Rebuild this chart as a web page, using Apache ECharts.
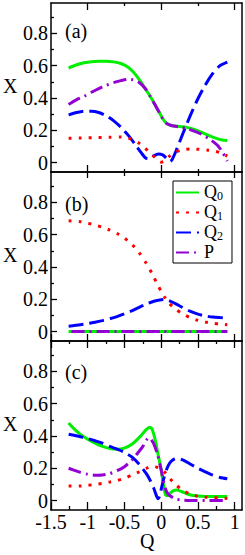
<!DOCTYPE html>
<html>
<head>
<meta charset="utf-8">
<script src="https://cdn.jsdelivr.net/npm/echarts@6/dist/echarts.min.js"></script>
<style>
html,body{margin:0;padding:0;background:#fff;}
#c{width:245px;height:555px;}
</style>
</head>
<body>
<div id="c"></div>
<script>
// ---------- data (Q, X) ----------
const seriesNames = ['Q0', 'Q1', 'Q2', 'P'];
const panelLabels = ['(a)', '(b)', '(c)'];
const xLabelTicks = [-1.5, -1, -0.5, 0, 0.5, 1];
const xQuarterTicks = [-1.25, -0.75, -0.25, 0.25, 0.75];
const xIntTicks = [-1, 0, 1];
const xHalfOddTicks = [-0.5, 0.5];
const yLabelTicks = [0, 0.2, 0.4, 0.6, 0.8];
const yMinorTicks = [0.1, 0.3, 0.5, 0.7, 0.9];

const aQ0 = [[-1.26,0.585],[-1.15,0.605],[-1.05,0.617],[-0.95,0.624],[-0.85,0.627],[-0.75,0.627],[-0.65,0.623],[-0.55,0.613],[-0.45,0.59],[-0.38,0.56],[-0.3,0.515],[-0.22,0.46],[-0.15,0.41],[-0.08,0.355],[-0.02,0.305],[0.03,0.265],[0.08,0.24],[0.15,0.228],[0.25,0.223],[0.35,0.218],[0.45,0.205],[0.55,0.187],[0.65,0.167],[0.75,0.15],[0.83,0.14],[0.9,0.137]];
const aQ1 = [[-1.26,0.15],[-1.1,0.152],[-0.9,0.155],[-0.7,0.157],[-0.55,0.158],[-0.45,0.152],[-0.38,0.14],[-0.3,0.12],[-0.22,0.09],[-0.15,0.06],[-0.08,0.03],[-0.03,0.008],[0,0.003],[0.04,0.008],[0.1,0.035],[0.18,0.062],[0.28,0.078],[0.4,0.085],[0.52,0.082],[0.64,0.077],[0.74,0.07],[0.82,0.058],[0.9,0.04]];
const aQ2 = [[-1.26,0.295],[-1.15,0.31],[-1.05,0.318],[-0.95,0.318],[-0.85,0.31],[-0.75,0.29],[-0.65,0.26],[-0.55,0.22],[-0.45,0.17],[-0.35,0.11],[-0.27,0.06],[-0.21,0.028],[-0.15,0.025],[-0.1,0.042],[-0.04,0.053],[0.02,0.048],[0.07,0.028],[0.12,0.008],[0.15,0.02],[0.2,0.07],[0.3,0.185],[0.4,0.295],[0.5,0.395],[0.6,0.48],[0.7,0.55],[0.8,0.6],[0.9,0.622]];
const aP = [[-1.26,0.36],[-1.15,0.39],[-1.05,0.41],[-0.95,0.435],[-0.85,0.458],[-0.75,0.478],[-0.65,0.495],[-0.55,0.507],[-0.45,0.515],[-0.38,0.512],[-0.3,0.495],[-0.22,0.46],[-0.15,0.41],[-0.08,0.355],[-0.02,0.305],[0.03,0.265],[0.08,0.24],[0.15,0.228],[0.25,0.22],[0.35,0.21],[0.45,0.195],[0.55,0.175],[0.65,0.148],[0.72,0.125],[0.78,0.1],[0.84,0.06],[0.9,0.01]];

const bQ0 = [[-1.26,0],[-0.8,0],[-0.4,0],[0,0],[0.4,0],[0.9,0]];
const bQ1 = [[-1.26,0.685],[-1.1,0.68],[-1.0,0.67],[-0.9,0.66],[-0.8,0.645],[-0.7,0.628],[-0.6,0.607],[-0.5,0.578],[-0.4,0.54],[-0.3,0.488],[-0.2,0.42],[-0.12,0.355],[-0.05,0.29],[0,0.25],[0.05,0.212],[0.1,0.18],[0.2,0.137],[0.3,0.108],[0.4,0.085],[0.5,0.07],[0.6,0.06],[0.7,0.052],[0.8,0.047],[0.9,0.043]];
const bQ2 = [[-1.26,0.033],[-1.1,0.042],[-1.0,0.05],[-0.9,0.058],[-0.8,0.068],[-0.7,0.08],[-0.6,0.093],[-0.5,0.11],[-0.4,0.128],[-0.3,0.15],[-0.2,0.17],[-0.1,0.188],[0,0.197],[0.05,0.198],[0.1,0.193],[0.2,0.172],[0.3,0.147],[0.4,0.125],[0.5,0.108],[0.6,0.097],[0.7,0.09],[0.8,0.087],[0.9,0.085]];
const bP = [[-1.22,0],[-0.8,0],[-0.4,0],[0,0],[0.4,0],[0.9,0]];

const cQ0 = [[-1.26,0.48],[-1.2,0.45],[-1.1,0.41],[-1.0,0.38],[-0.9,0.355],[-0.8,0.335],[-0.7,0.322],[-0.6,0.318],[-0.5,0.325],[-0.4,0.348],[-0.3,0.39],[-0.25,0.415],[-0.2,0.44],[-0.16,0.452],[-0.13,0.447],[-0.1,0.41],[-0.07,0.35],[-0.04,0.28],[0,0.19],[0.03,0.1],[0.06,0.035],[0.09,0.03],[0.12,0.045],[0.16,0.06],[0.21,0.065],[0.3,0.052],[0.4,0.035],[0.5,0.028],[0.6,0.025],[0.7,0.025],[0.8,0.025],[0.9,0.025]];
const cQ1 = [[-1.26,0.09],[-1.1,0.09],[-1.0,0.095],[-0.9,0.1],[-0.8,0.107],[-0.7,0.115],[-0.6,0.125],[-0.5,0.138],[-0.4,0.158],[-0.3,0.178],[-0.2,0.2],[-0.13,0.213],[-0.08,0.21],[-0.03,0.2],[0,0.195],[0.05,0.175],[0.1,0.145],[0.15,0.12],[0.2,0.097],[0.3,0.062],[0.4,0.038],[0.5,0.027],[0.6,0.021],[0.7,0.019],[0.8,0.016],[0.9,0.013]];
const cQ2 = [[-1.26,0.41],[-1.1,0.395],[-1.0,0.384],[-0.9,0.37],[-0.8,0.355],[-0.7,0.335],[-0.6,0.318],[-0.5,0.298],[-0.4,0.27],[-0.3,0.225],[-0.2,0.165],[-0.15,0.125],[-0.1,0.075],[-0.06,0.025],[-0.04,0.012],[-0.02,0.03],[0,0.07],[0.04,0.145],[0.08,0.2],[0.12,0.235],[0.17,0.255],[0.22,0.262],[0.3,0.25],[0.4,0.225],[0.5,0.2],[0.6,0.178],[0.7,0.158],[0.8,0.143],[0.9,0.135]];
const cP = [[-1.26,0.2],[-1.2,0.19],[-1.1,0.175],[-1.0,0.163],[-0.9,0.157],[-0.8,0.158],[-0.7,0.167],[-0.6,0.185],[-0.5,0.21],[-0.4,0.25],[-0.3,0.305],[-0.25,0.335],[-0.2,0.375],[-0.17,0.388],[-0.14,0.38],[-0.1,0.35],[-0.05,0.285],[0,0.19],[0.04,0.1],[0.08,0.05],[0.12,0.03],[0.2,0.01],[0.3,0.003],[0.4,0],[0.6,0],[0.9,0]];

const panels = [
  {Q0: aQ0, Q1: aQ1, Q2: aQ2, P: aP},
  {Q0: bQ0, Q1: bQ1, Q2: bQ2, P: bP},
  {Q0: cQ0, Q1: cQ1, Q2: cQ2, P: cP}
];

// ---------- layout / style ----------
const FONT = 'Liberation Serif';
const GRID_LEFT = 51, GRID_W = 191, GRID_H = 169, GRID_TOP0 = 3;
const XMIN = -1.5, XMAX = 1.1, YMIN = -0.058, YMAX = 0.987;
const styles = {
  Q0: {color: '#00ee00', type: 'solid'},
  Q1: {color: '#ff0000', type: [3, 7]},
  Q2: {color: '#0000ff', type: [15, 6]},
  P:  {color: '#9400d3', type: [13, 5, 2, 5]}
};
const drawOrder = ['Q0', 'Q2', 'Q1', 'P'];

// tick layout per panel: [position, values, length]
const xTickSets = [
  [['top', xIntTicks, 7], ['top', xHalfOddTicks, 3], ['bottom', xIntTicks, 7], ['bottom', xHalfOddTicks, 3]],
  [['top', xIntTicks, 6], ['top', xHalfOddTicks, 4], ['bottom', xLabelTicks, 7]],
  [['top', xLabelTicks, 7], ['top', xQuarterTicks, 3], ['bottom', xLabelTicks, 8], ['bottom', xQuarterTicks, 4]]
];

const lineCol = '#000';
const grids = [], xAxes = [], yAxes = [], series = [], graphics = [];

panels.forEach((pd, i) => {
  const top = GRID_TOP0 + i * GRID_H;
  grids.push({left: GRID_LEFT, top: top, width: GRID_W, height: GRID_H, containLabel: false});
  const mainX = xAxes.length;
  xAxes.push({
    type: 'value', gridIndex: i, min: XMIN, max: XMAX, position: 'bottom',
    axisLine: {show: true, onZero: false, lineStyle: {color: lineCol, width: 1.5}},
    axisTick: {show: false},
    axisLabel: i === 2 ? {show: true, customValues: xLabelTicks, margin: 2, color: '#000',
      fontFamily: FONT, fontSize: 20, formatter: v => String(v)} : {show: false},
    splitLine: {show: false}
  });
  xAxes.push({
    type: 'value', gridIndex: i, min: XMIN, max: XMAX, position: 'top',
    axisLine: {show: true, onZero: false, lineStyle: {color: lineCol, width: 1.5}},
    axisTick: {show: false}, axisLabel: {show: false}, splitLine: {show: false}
  });
  xTickSets[i].forEach(ts => {
    xAxes.push({
      type: 'value', gridIndex: i, min: XMIN, max: XMAX, position: ts[0],
      axisLine: {show: false, onZero: false},
      axisTick: {show: true, inside: true, length: ts[2], customValues: ts[1], lineStyle: {color: lineCol, width: 1.3}},
      axisLabel: {show: false}, splitLine: {show: false}
    });
  });
  const mainY = yAxes.length;
  yAxes.push({
    type: 'value', gridIndex: i, min: YMIN, max: YMAX, position: 'left',
    axisLine: {show: true, onZero: false, lineStyle: {color: lineCol, width: 1.5}},
    axisTick: {show: true, inside: true, length: 6, customValues: yLabelTicks, lineStyle: {color: lineCol, width: 1.3}},
    axisLabel: {show: true, customValues: yLabelTicks, margin: 3, color: '#000', fontFamily: FONT, fontSize: 20,
      formatter: v => (Math.abs(v) < 1e-9 ? '0' : v.toFixed(1))},
    splitLine: {show: false}
  });
  yAxes.push({
    type: 'value', gridIndex: i, min: YMIN, max: YMAX, position: 'left',
    axisLine: {show: false, onZero: false},
    axisTick: {show: true, inside: true, length: 3, customValues: yMinorTicks, lineStyle: {color: lineCol, width: 1.3}},
    axisLabel: {show: false}, splitLine: {show: false}
  });
  yAxes.push({
    type: 'value', gridIndex: i, min: YMIN, max: YMAX, position: 'right',
    axisLine: {show: true, onZero: false, lineStyle: {color: lineCol, width: 1.5}},
    axisTick: {show: false}, axisLabel: {show: false}, splitLine: {show: false}
  });

  drawOrder.forEach(name => {
    series.push({
      type: 'line', name: name, xAxisIndex: mainX, yAxisIndex: mainY,
      data: pd[name], symbol: 'none', smooth: 0.25, silent: true, animation: false,
      lineStyle: {color: styles[name].color, width: 3, type: styles[name].type, cap: 'butt'},
      itemStyle: {color: styles[name].color}
    });
  });

  graphics.push({
    type: 'text', left: 3, top: top + GRID_H / 2 - 12,
    style: {text: 'X', font: '20px "' + FONT + '"', fill: '#000'}
  });
  graphics.push({
    type: 'text', left: 65, top: top + [29, 33, 32][i] - 11,
    style: {text: panelLabels[i], font: '20px "' + FONT + '"', fill: '#000'}
  });
});

graphics.push({
  type: 'text', left: 140, top: 531,
  style: {text: 'Q', font: '20px "' + FONT + '"', fill: '#000'}
});

const chart = echarts.init(document.getElementById('c'), null, {renderer: 'svg'});
chart.setOption({
  animation: false,
  backgroundColor: '#fff',
  grid: grids,
  xAxis: xAxes,
  yAxis: yAxes,
  series: series,
  graphic: graphics,
  legend: {
    data: seriesNames,
    orient: 'vertical', left: 173, top: 181,
    itemWidth: 23, itemHeight: 12, itemGap: 1, itemTextGap: 5,
    padding: [2, 9, 2, 2],
    borderColor: '#000', borderWidth: 1, backgroundColor: '#fff',
    selectedMode: false,
    itemStyle: {opacity: 0},
    lineStyle: {opacity: 1},
    formatter: n => n === 'P' ? '{q|P}' : '{q|Q}{s|' + n.slice(1) + '}',
    textStyle: {
      color: '#000', fontFamily: FONT, fontSize: 18,
      rich: {
        q: {fontFamily: FONT, fontSize: 18, lineHeight: 19, verticalAlign: 'top', color: '#000'},
        s: {fontFamily: FONT, fontSize: 12, lineHeight: 12, padding: [7, 0, 0, 0], verticalAlign: 'top', color: '#000'}
      }
    }
  }
});
</script>
</body>
</html>
